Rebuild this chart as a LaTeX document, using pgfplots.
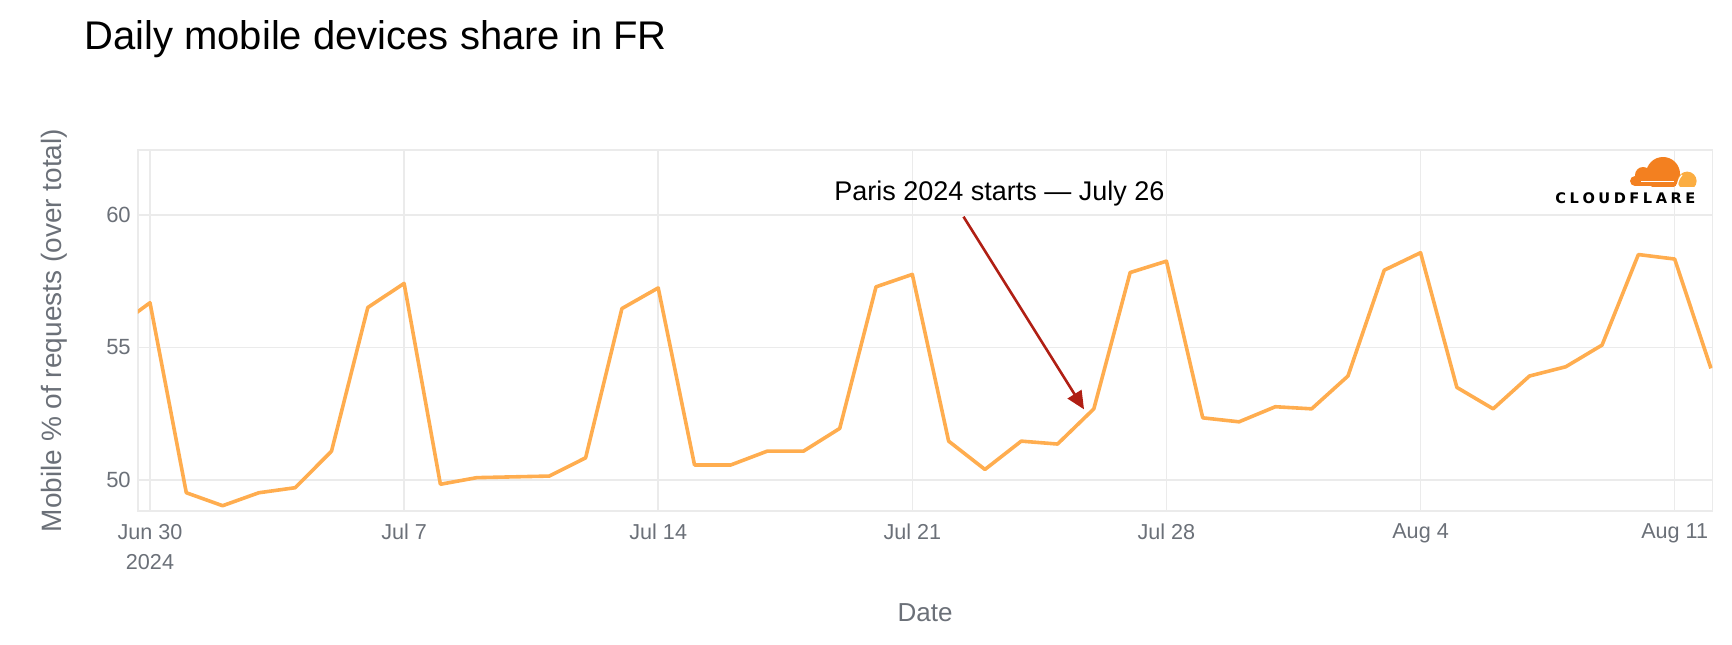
\documentclass[border=0pt]{standalone}
\usepackage{fontspec}
\setmainfont{Liberation Sans}
\newfontfamily\logofont{DejaVu Sans}
\usepackage{pgfplots}
\pgfplotsset{compat=1.18}
\usetikzlibrary{arrows.meta}

\definecolor{linecol}{RGB}{255,173,79}
\definecolor{arrowred}{RGB}{176,31,20}
\definecolor{gridgray}{RGB}{235,235,235}
\definecolor{labelgray}{RGB}{107,112,120}
\definecolor{cforange}{RGB}{243,128,32}
\definecolor{cflight}{RGB}{251,173,65}

% day offset from Jun 30 2024, mobile share in %
\pgfplotstableread{
day share
-1 55.68
0 56.69
1 49.51
2 49.02
3 49.51
4 49.70
5 51.08
6 56.51
7 57.42
8 49.83
9 50.08
10 50.11
11 50.14
12 50.83
13 56.47
14 57.25
15 50.56
16 50.56
17 51.08
18 51.08
19 51.94
20 57.29
21 57.76
22 51.46
23 50.39
24 51.46
25 51.35
26 52.68
27 57.83
28 58.26
29 52.34
30 52.19
31 52.76
32 52.68
33 53.92
34 57.92
35 58.58
36 53.49
37 52.68
38 53.92
39 54.27
40 55.09
41 58.51
42 58.34
43 54.21
}\mobiledata

\begin{document}
\begin{tikzpicture}
\useasboundingbox (0pt,0pt) rectangle (866pt,322pt);

\node[anchor=base west, inner sep=0pt, font=\fontsize{20}{24}\selectfont]
  at (42pt,297pt) {Daily mobile devices share in FR};

\begin{axis}[
  scale only axis,
  width=787.3pt, height=180.5pt,
  at={(68.9pt,66.5pt)}, anchor=south west,
  xmin=-0.336, xmax=43.04,
  ymin=48.82, ymax=62.46,
  xtick={0,7,14,21,28,35,42},
  xticklabels={{Jun 30\\2024},Jul 7,Jul 14,Jul 21,Jul 28,Aug 4,Aug 11},
  ytick={50,55,60},
  major tick length=0pt,
  grid=major,
  major grid style={draw=gridgray, line width=0.75pt},
  axis line style={draw=gridgray, line width=0.75pt},
  /pgf/number format/assume math mode=true,
  xticklabel style={font=\fontsize{10.8}{15}\selectfont, text=labelgray, align=center, yshift=-3pt},
  yticklabel style={font=\fontsize{11}{13}\selectfont, text=labelgray},
  xlabel={Date},
  ylabel={Mobile \% of requests (over total)},
  xlabel style={at={(axis description cs:0.5,-0.3066)}, anchor=base,
    font=\fontsize{13}{15}\selectfont, text=labelgray},
  ylabel style={at={(axis description cs:-0.0486,0.5)}, anchor=base, rotate=0,
    font=\fontsize{14}{16}\selectfont, text=labelgray},
  clip mode=individual,
]
\addplot[color=linecol, line width=1.8pt, line join=round] table[x=day, y=share] {\mobiledata};

\node[anchor=base, inner sep=0pt, font=\fontsize{13.5}{16}\selectfont]
  at (axis cs:23.4,60.57) {Paris 2024 starts — July 26};
\draw[arrowred, line width=1.3pt, -{Triangle[length=9pt,width=8pt]}]
  (axis cs:22.41,59.94) -- (axis cs:25.73,52.66);
\end{axis}

% Cloudflare logo
\begin{scope}
\clip (810pt,229pt) rectangle (852pt,250pt);
\fill[cforange] (831.5pt,235pt) circle[radius=8.5pt];
\fill[cforange] (821.5pt,234.5pt) circle[radius=4pt];
\fill[cforange] (817.5pt,231.5pt) circle[radius=2.5pt];
\fill[cforange] (817.5pt,229pt) rectangle (838pt,233pt);
\draw[white, line width=0.6pt] (820.5pt,231.2pt) -- (837pt,231.2pt);
\fill[cflight] (843.6pt,231.5pt) circle[radius=4.7pt];
\draw[white, line width=0.6pt] (838.6pt,229pt) .. controls (839pt,232pt) and (840pt,233.5pt) .. (841pt,234.5pt);
\end{scope}
\node[anchor=base west, inner sep=0pt, font=\logofont\bfseries\fontsize{7.3}{8}\selectfont]
  at (777.5pt,220.3pt) {\hbox to 70pt{C\hfill L\hfill O\hfill U\hfill D\hfill F\hfill L\hfill A\hfill R\hfill E}};
\end{tikzpicture}
\end{document}
